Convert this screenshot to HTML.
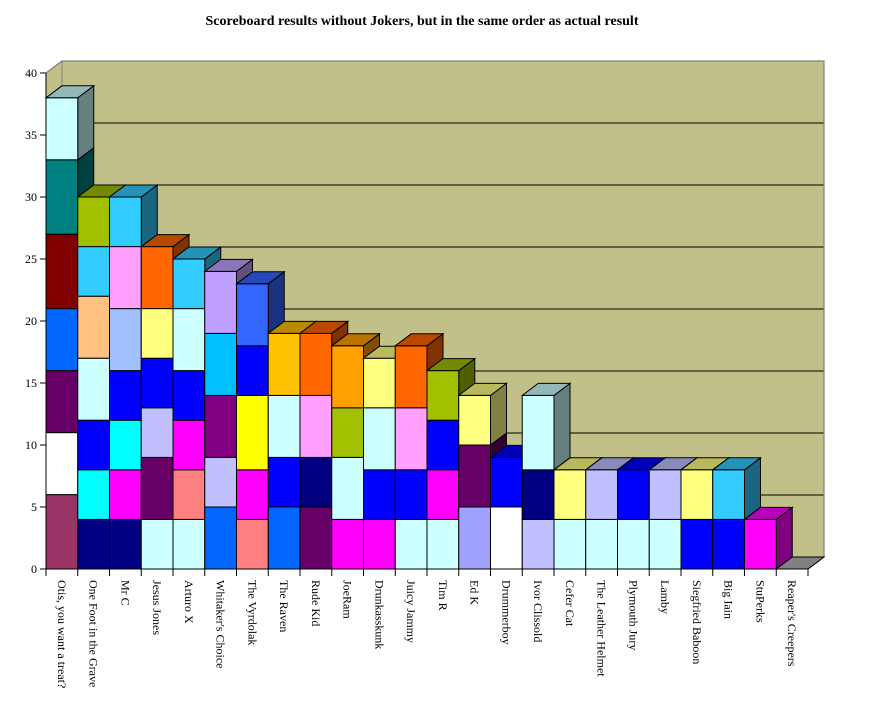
<!DOCTYPE html>
<html><head><meta charset="utf-8"><style>
html,body{margin:0;padding:0;background:#fff;}
svg{display:block;font-family:"Liberation Serif",serif;}
</style></head><body>
<svg id="c" width="874" height="709" xmlns="http://www.w3.org/2000/svg">
<text x="422" y="25" text-anchor="middle" font-size="14" font-weight="bold">Scoreboard results without Jokers, but in the same order as actual result</text>
</svg>
<script>
var names=["Otis, you want a treat?","One Foot in the Grave","Mr C","Jesus Jones","Arturo X","Whitaker's Choice","The Vyrdolak","The Raven","Rude Kid","JoeRam","Drunkasskunk","Juicy Jammy","Tim R","Ed K","Drummerboy","Ivor Clissold","Cefer Cat","The Leather Helmet","Plymouth Jury","Lamby","Siegfried Baboon","Big Iain","StuPerks","Reaper's Creepers"];
var data=[
[[6,"#993366"],[5,"#FFFFFF"],[5,"#660066"],[5,"#0066FF"],[6,"#800000"],[6,"#008080"],[5,"#CCFFFF"]],
[[4,"#000080"],[4,"#00FFFF"],[4,"#0000FF"],[5,"#CCFFFF"],[5,"#FFC080"],[4,"#33CCFF"],[4,"#A0C000"]],
[[4,"#000080"],[4,"#FF00FF"],[4,"#00FFFF"],[4,"#0000FF"],[5,"#A0C0FF"],[5,"#FFA0FF"],[4,"#33CCFF"]],
[[4,"#CCFFFF"],[5,"#660066"],[4,"#C0C0FF"],[4,"#0000FF"],[4,"#FFFF80"],[5,"#FF6600"]],
[[4,"#CCFFFF"],[4,"#FF8080"],[4,"#FF00FF"],[4,"#0000FF"],[5,"#CCFFFF"],[4,"#33CCFF"]],
[[5,"#0066FF"],[4,"#C0C0FF"],[5,"#800080"],[5,"#00C0FF"],[5,"#C0A0FF"]],
[[4,"#FF8080"],[4,"#FF00FF"],[6,"#FFFF00"],[4,"#0000FF"],[5,"#3366FF"]],
[[5,"#0066FF"],[4,"#0000FF"],[5,"#CCFFFF"],[5,"#FFC000"]],
[[5,"#660066"],[4,"#000080"],[5,"#FFA0FF"],[5,"#FF6600"]],
[[4,"#FF00FF"],[5,"#CCFFFF"],[4,"#A0C000"],[5,"#FFA000"]],
[[4,"#FF00FF"],[4,"#0000FF"],[5,"#CCFFFF"],[4,"#FFFF80"]],
[[4,"#CCFFFF"],[4,"#0000FF"],[5,"#FFA0FF"],[5,"#FF6600"]],
[[4,"#CCFFFF"],[4,"#FF00FF"],[4,"#0000FF"],[4,"#A0C000"]],
[[5,"#A0A0FF"],[5,"#660066"],[4,"#FFFF80"]],
[[5,"#FFFFFF"],[4,"#0000FF"]],
[[4,"#C0C0FF"],[4,"#000080"],[6,"#CCFFFF"]],
[[4,"#CCFFFF"],[4,"#FFFF80"]],
[[4,"#CCFFFF"],[4,"#C0C0FF"]],
[[4,"#CCFFFF"],[4,"#0000FF"]],
[[4,"#CCFFFF"],[4,"#C0C0FF"]],
[[4,"#0000FF"],[4,"#FFFF80"]],
[[4,"#0000FF"],[4,"#33CCFF"]],
[[4,"#FF00FF"]],
[]];
function sh(c,f){var n=parseInt(c.slice(1),16);var r=(n>>16)&255,g=(n>>8)&255,b=n&255;
return "rgb("+Math.round(r*f)+","+Math.round(g*f)+","+Math.round(b*f)+")";}
var Y0=569,S=12.4,X0=46,W=31.75,DX=16,DY=-12;
function y(v){return Y0-v*S;}
var s='';
// walls
s+='<polygon points="62,61 824,61 824,557 62,557" fill="#C0C088"/>';
s+='<polygon points="46,73 62,61 62,557 46,569" fill="#C0C088"/>';
s+='<polygon points="46,569 62,557 824,557 808,569" fill="#C0C088"/>';
for(var v=5;v<=35;v+=5){s+='<line x1="62" y1="'+(y(v)-12)+'" x2="824" y2="'+(y(v)-12)+'" stroke="#000" stroke-width="1"/>';}
s+='<polyline points="46,73 62,61 824,61 824,557 808,569" fill="none" stroke="#808080" stroke-width="1.2"/>';
s+='<line x1="62" y1="61" x2="62" y2="557" stroke="#808080"/>';
function poly(p,f){return '<polygon points="'+p+'" fill="'+f+'" stroke="#000" stroke-width="1"/>';}
for(var i=0;i<24;i++){
 var x=X0+i*W, x2=x+W, segs=data[i], b=0;
 if(segs.length==0){s+=poly(x+','+Y0+' '+(x+DX)+','+(Y0+DY)+' '+(x2+DX)+','+(Y0+DY)+' '+x2+','+Y0,"#808080");continue;}
 for(var k=0;k<segs.length;k++){var t=b+segs[k][0];var c=segs[k][1];
  s+=poly(x2+','+y(b)+' '+(x2+DX)+','+(y(b)+DY)+' '+(x2+DX)+','+(y(t)+DY)+' '+x2+','+y(t),sh(c,0.5));
  s+='<rect x="'+x+'" y="'+y(t)+'" width="'+W+'" height="'+(segs[k][0]*S)+'" fill="'+c+'" stroke="#000" stroke-width="1"/>';
  if(k==segs.length-1){s+=poly(x+','+y(t)+' '+(x+DX)+','+(y(t)+DY)+' '+(x2+DX)+','+(y(t)+DY)+' '+x2+','+y(t),sh(c,0.72));}
  b=t;}
}
// axes
s+='<line x1="46" y1="73" x2="46" y2="569" stroke="#000"/>';
s+='<line x1="46" y1="569" x2="808" y2="569" stroke="#000"/>';
for(var v=0;v<=40;v+=5){s+='<line x1="40" y1="'+y(v)+'" x2="46" y2="'+y(v)+'" stroke="#000"/>';
 s+='<text x="37" y="'+(y(v)+4)+'" text-anchor="end" font-size="12">'+v+'</text>';}
for(var i=0;i<=24;i++){var x=X0+i*W;s+='<line x1="'+x+'" y1="569" x2="'+x+'" y2="576" stroke="#000"/>';}
for(var i=0;i<24;i++){var cx=X0+i*W+W/2-4;
 s+='<text transform="translate('+cx+',580) rotate(90)" font-size="12">'+names[i].replace("'","&#39;")+'</text>';}
document.getElementById('c').insertAdjacentHTML('beforeend',s);
</script>
</body></html>
